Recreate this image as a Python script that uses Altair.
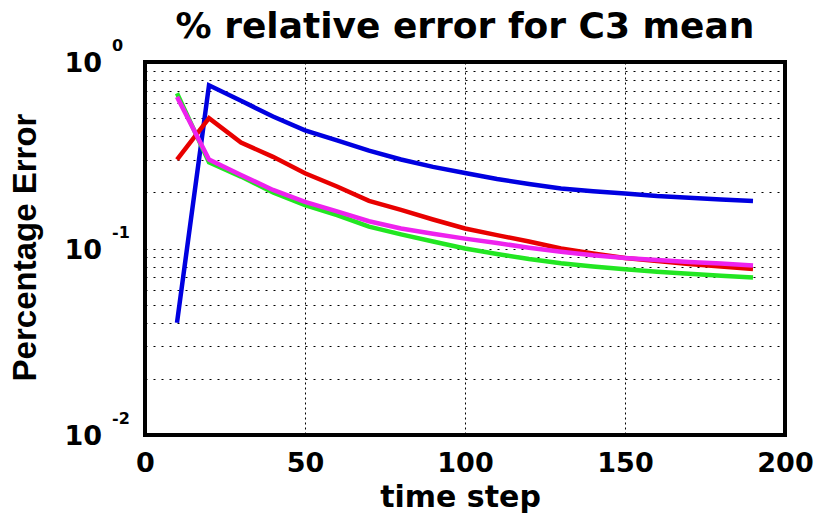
import altair as alt
import pandas as pd

steps = [10, 20, 30, 40, 50, 60, 70, 80, 90, 100, 110, 120, 130, 140, 150, 160, 170, 180, 190]
blue = [0.040, 0.75, 0.62, 0.51, 0.43, 0.38, 0.335, 0.30, 0.274, 0.254, 0.236, 0.222, 0.21, 0.203, 0.197, 0.191, 0.187, 0.183, 0.18]
green = [0.68, 0.29, 0.243, 0.20, 0.171, 0.151, 0.131, 0.119, 0.109, 0.100, 0.0935, 0.0878, 0.0833, 0.080, 0.0773, 0.0751, 0.0733, 0.0715, 0.070]
red = [0.30, 0.50, 0.37, 0.31, 0.253, 0.215, 0.18, 0.161, 0.143, 0.128, 0.118, 0.109, 0.100, 0.094, 0.089, 0.0857, 0.0826, 0.080, 0.0776]
magenta = [0.65, 0.30, 0.248, 0.206, 0.178, 0.158, 0.140, 0.128, 0.120, 0.113, 0.107, 0.101, 0.096, 0.092, 0.089, 0.0868, 0.0847, 0.083, 0.081]

series = [("blue", blue, "#0000e0"), ("green", green, "#22e622"),
          ("red", red, "#e80000"), ("magenta", magenta, "#ee22ee")]

x_ticks = [0, 50, 100, 150, 200]
y_grid = [m * 10 ** e for e in (-2, -1) for m in range(1, 10)] + [1.0]
y_label_vals = [1.0, 0.1, 0.01]
y_label_exps = ["0", "-1", "-2"]

xscale = alt.Scale(domain=[0, 200], nice=False)
yscale = alt.Scale(type="log", domain=[0.01, 1], nice=False)

xaxis = alt.Axis(values=x_ticks, grid=True, gridDash=[2, 3], gridColor="black",
                 gridOpacity=1, gridWidth=1, ticks=False, domain=False,
                 labelFont="DejaVu Sans", labelFontWeight="bold", labelFontSize=27,
                 labelColor="black", labelPadding=15, labelFlush=False,
                 title="time step", titleFont="DejaVu Sans", titleFontWeight="bold",
                 titleFontSize=30, titleColor="black", titleX=315, titleY=71,
                 titleBaseline="alphabetic", titleAlign="center")
yaxis = alt.Axis(values=y_grid, grid=True, gridDash=[2, 6], gridColor="black",
                 gridOpacity=1, gridWidth=1, ticks=False, domain=False, labels=False,
                 title="Percentage Error", titleFont="Liberation Sans",
                 titleFontWeight="bold", titleFontSize=33, titleColor="black",
                 titleAngle=-90, titleX=-110, titleY=185, titleBaseline="alphabetic",
                 titleAlign="center")

X = alt.X("step:Q", scale=xscale, axis=xaxis)

layers = []
for name, vals, col in series:
    df = pd.DataFrame({"step": steps, "err": vals, "series": name})
    layers.append(alt.Chart(df).mark_line(color=col, strokeWidth=4.5).encode(
        x=X, y=alt.Y("err:Q", scale=yscale, axis=yaxis)))

lab = pd.DataFrame({"v": y_label_vals, "exp": y_label_exps, "base": ["10"] * 3})
base_txt = alt.Chart(lab).mark_text(align="right", baseline="middle", font="DejaVu Sans",
                                    fontWeight="bold", fontSize=27, color="black", dy=2).encode(
    x=alt.value(-43), y=alt.Y("v:Q", scale=yscale, axis=yaxis), text="base:N")
exp_txt = alt.Chart(lab).mark_text(align="left", baseline="middle", font="DejaVu Sans",
                                   fontWeight="bold", fontSize=16, color="black", dy=-16).encode(
    x=alt.value(-33), y=alt.Y("v:Q", scale=yscale, axis=yaxis), text="exp:N")

chart = alt.layer(*layers, base_txt, exp_txt).properties(
    width=640, height=373,
    title=alt.TitleParams("% relative error for C3 mean", font="DejaVu Sans",
                          fontWeight="bold", fontSize=36, color="black",
                          anchor="middle", offset=0, baseline="alphabetic", dy=36),
    autosize=alt.AutoSizeParams(type="none"),
    padding={"left": 145, "top": 62, "right": 32, "bottom": 83},
).configure(background="white").configure_view(stroke="black", strokeWidth=4)

chart.save("out.html", embed_options={"renderer": "svg", "actions": False})
